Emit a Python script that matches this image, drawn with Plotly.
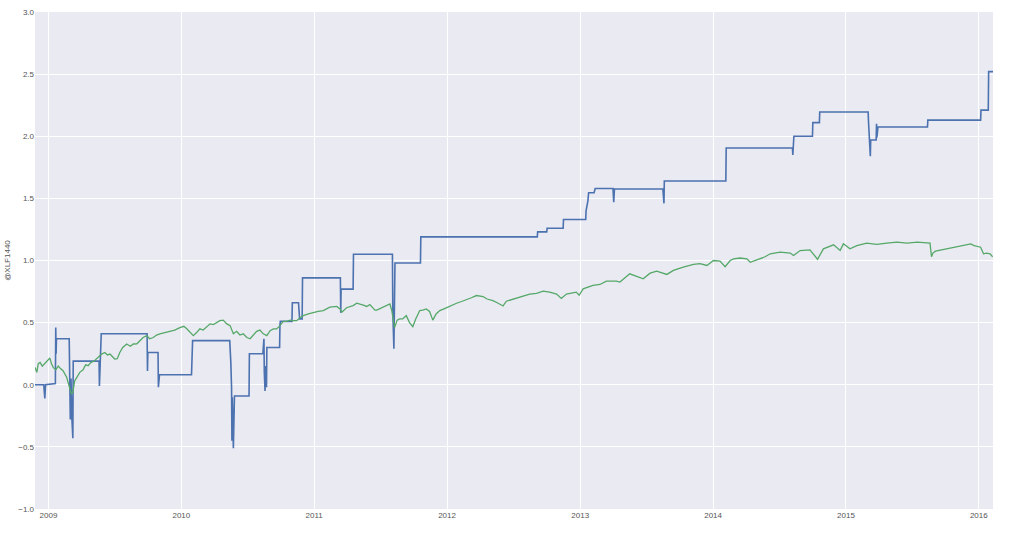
import plotly.graph_objects as go

# Strategy equity curve (blue) - step-like series
blue_dates = [
    "2008-11-25", "2008-12-19", "2008-12-22", "2008-12-24", "2009-01-20", "2009-01-21", "2009-01-22", "2009-01-23",
    "2009-02-27", "2009-03-02", "2009-03-04", "2009-03-06", "2009-03-09", "2009-03-10", "2009-05-20", "2009-05-21",
    "2009-05-22", "2009-05-26", "2009-09-29", "2009-09-30", "2009-10-01", "2009-10-29", "2009-10-30", "2009-11-02",
    "2010-01-29", "2010-02-01", "2010-05-14", "2010-05-17", "2010-05-19", "2010-05-20", "2010-05-21", "2010-05-24",
    "2010-05-25", "2010-05-27", "2010-07-06", "2010-07-07", "2010-08-13", "2010-08-16", "2010-08-17", "2010-08-19",
    "2010-08-20", "2010-08-23", "2010-08-24", "2010-09-28", "2010-09-29", "2010-09-30", "2010-11-01", "2010-11-02",
    "2010-11-19", "2010-11-22", "2010-11-29", "2010-11-30", "2011-03-14", "2011-03-15", "2011-03-16", "2011-04-18",
    "2011-04-19", "2011-08-04", "2011-08-05", "2011-08-08", "2011-08-09", "2011-08-10", "2011-08-11", "2011-10-20",
    "2011-10-21", "2012-09-05", "2012-09-06", "2012-10-01", "2012-10-02", "2012-11-15", "2012-11-16", "2013-01-16",
    "2013-01-17", "2013-01-22", "2013-01-24", "2013-02-08", "2013-02-11", "2013-04-01", "2013-04-03", "2013-04-05",
    "2013-08-16", "2013-08-19", "2013-08-20", "2014-02-05", "2014-02-06", "2014-08-07", "2014-08-08", "2014-08-11",
    "2014-10-01", "2014-10-02", "2014-10-20", "2014-10-21", "2015-03-03", "2015-03-04", "2015-03-06", "2015-03-09",
    "2015-03-10", "2015-03-25", "2015-03-26", "2015-03-27", "2015-03-30", "2015-08-13", "2015-08-14", "2016-01-06",
    "2016-01-07", "2016-01-27", "2016-01-28", "2016-02-09",
]
blue_values = [
    0.0, 0.0, -0.11, 0.0, 0.01, 0.46, 0.25, 0.37,
    0.37, -0.28, 0.05, -0.25, -0.43, 0.19, 0.19, -0.01,
    0.12, 0.41, 0.41, 0.11, 0.26, 0.26, -0.02, 0.08,
    0.08, 0.355, 0.355, 0.18, -0.02, -0.45, -0.10, -0.51,
    -0.38, -0.09, -0.09, 0.25, 0.25, 0.37, 0.10, -0.05,
    0.15, -0.02, 0.30, 0.30, 0.48, 0.51, 0.51, 0.66,
    0.66, 0.53, 0.53, 0.86, 0.86, 0.58, 0.77, 0.77,
    1.05, 1.05, 0.60, 0.29, 0.90, 0.50, 0.98, 0.98,
    1.19, 1.19, 1.23, 1.23, 1.26, 1.26, 1.33, 1.33,
    1.40, 1.48, 1.545, 1.545, 1.58, 1.58, 1.47, 1.575,
    1.575, 1.46, 1.64, 1.64, 1.905, 1.905, 1.85, 2.0,
    2.0, 2.11, 2.11, 2.195, 2.195, 2.115, 1.98, 1.84,
    1.97, 1.97, 2.10, 1.99, 2.075, 2.075, 2.13, 2.13,
    2.21, 2.21, 2.52, 2.52,
]

# Benchmark (green)
green_dates = [
    "2008-11-25", "2008-11-30", "2008-12-04", "2008-12-09", "2008-12-15", "2008-12-22", "2008-12-29", "2009-01-05",
    "2009-01-09", "2009-01-14", "2009-01-21", "2009-01-28", "2009-02-03", "2009-02-10", "2009-02-20", "2009-03-01",
    "2009-03-05", "2009-03-09", "2009-03-14", "2009-03-20", "2009-03-28", "2009-04-06", "2009-04-13", "2009-04-20",
    "2009-04-28", "2009-05-06", "2009-05-13", "2009-05-20", "2009-05-27", "2009-06-05", "2009-06-12", "2009-06-19",
    "2009-07-02", "2009-07-09", "2009-07-16", "2009-07-24", "2009-08-04", "2009-08-14", "2009-08-22", "2009-09-01",
    "2009-09-09", "2009-09-18", "2009-09-28", "2009-10-06", "2009-10-16", "2009-10-25", "2009-11-03", "2009-11-16",
    "2009-12-01", "2009-12-14", "2009-12-28", "2010-01-08", "2010-01-16", "2010-01-25", "2010-02-03", "2010-02-12",
    "2010-02-21", "2010-03-02", "2010-03-12", "2010-03-21", "2010-03-30", "2010-04-08", "2010-04-17", "2010-04-26",
    "2010-05-06", "2010-05-15", "2010-05-24", "2010-06-02", "2010-06-11", "2010-06-20", "2010-06-30", "2010-07-09",
    "2010-07-18", "2010-07-27", "2010-08-05", "2010-08-14", "2010-08-24", "2010-09-02", "2010-09-11", "2010-09-20",
    "2010-09-29", "2010-10-08", "2010-10-18", "2010-10-27", "2010-11-05", "2010-11-14", "2010-11-23", "2010-12-02",
    "2010-12-16", "2010-12-30", "2011-01-12", "2011-01-26", "2011-02-13", "2011-03-04", "2011-03-13", "2011-03-18",
    "2011-03-31", "2011-04-18", "2011-04-28", "2011-05-16", "2011-05-25", "2011-06-03", "2011-06-17", "2011-06-22",
    "2011-07-06", "2011-07-24", "2011-07-28", "2011-08-02", "2011-08-05", "2011-08-10", "2011-08-17", "2011-08-24",
    "2011-09-01", "2011-09-11", "2011-09-20", "2011-09-29", "2011-10-07", "2011-10-18", "2011-10-26", "2011-11-05",
    "2011-11-14", "2011-11-23", "2011-12-02", "2011-12-12", "2011-12-30", "2012-01-13", "2012-01-27", "2012-02-10",
    "2012-02-23", "2012-03-08", "2012-03-22", "2012-04-09", "2012-04-20", "2012-05-06", "2012-05-18", "2012-05-25",
    "2012-06-03", "2012-06-12", "2012-06-21", "2012-07-10", "2012-07-28", "2012-08-15", "2012-09-03", "2012-09-21",
    "2012-10-09", "2012-10-28", "2012-11-10", "2012-11-24", "2012-12-21", "2012-12-29", "2013-01-09", "2013-02-05",
    "2013-02-24", "2013-03-14", "2013-04-10", "2013-04-20", "2013-05-17", "2013-06-05", "2013-06-23", "2013-07-12",
    "2013-07-30", "2013-08-27", "2013-09-14", "2013-10-11", "2013-11-08", "2013-11-26", "2013-12-15", "2014-01-02",
    "2014-01-20", "2014-02-03", "2014-02-17", "2014-02-26", "2014-03-16", "2014-04-04", "2014-04-13", "2014-05-24",
    "2014-06-07", "2014-07-04", "2014-08-01", "2014-08-10", "2014-08-28", "2014-09-24", "2014-10-15", "2014-10-31",
    "2014-11-28", "2014-12-16", "2014-12-25", "2015-01-12", "2015-01-31", "2015-02-27", "2015-03-27", "2015-04-23",
    "2015-05-21", "2015-06-18", "2015-07-16", "2015-08-20", "2015-08-24", "2015-08-28", "2015-09-04", "2015-12-10",
    "2015-12-19", "2016-01-06", "2016-01-14", "2016-01-22", "2016-02-01", "2016-02-08",
]
green_values = [
    0.14, 0.10, 0.17, 0.18, 0.15, 0.17, 0.19, 0.215,
    0.17, 0.14, 0.12, 0.15, 0.13, 0.113, 0.06, -0.02,
    -0.075, -0.06, 0.03, 0.06, 0.10, 0.12, 0.16, 0.153,
    0.18, 0.19, 0.207, 0.23, 0.247, 0.26, 0.24, 0.247,
    0.207, 0.21, 0.26, 0.30, 0.328, 0.31, 0.328, 0.33,
    0.355, 0.38, 0.395, 0.37, 0.38, 0.40, 0.41, 0.42,
    0.435, 0.44, 0.46, 0.47, 0.45, 0.42, 0.395, 0.42,
    0.45, 0.44, 0.47, 0.49, 0.484, 0.50, 0.516, 0.52,
    0.49, 0.476, 0.41, 0.43, 0.40, 0.41, 0.38, 0.37,
    0.40, 0.43, 0.44, 0.41, 0.395, 0.435, 0.45, 0.45,
    0.476, 0.51, 0.51, 0.52, 0.516, 0.516, 0.54, 0.556,
    0.57, 0.583, 0.59, 0.597, 0.624, 0.63, 0.61, 0.583,
    0.62, 0.637, 0.656, 0.64, 0.63, 0.645, 0.60, 0.60,
    0.62, 0.65, 0.65, 0.60, 0.53, 0.46, 0.52, 0.53,
    0.53, 0.556, 0.50, 0.468, 0.53, 0.597, 0.60, 0.61,
    0.59, 0.52, 0.57, 0.597, 0.618, 0.64, 0.656, 0.67,
    0.683, 0.70, 0.718, 0.71, 0.69, 0.677, 0.66, 0.65,
    0.634, 0.672, 0.68, 0.696, 0.707, 0.729, 0.735, 0.753,
    0.745, 0.73, 0.695, 0.73, 0.745, 0.72, 0.772, 0.799,
    0.807, 0.834, 0.834, 0.826, 0.893, 0.87, 0.853, 0.898,
    0.915, 0.888, 0.92, 0.947, 0.969, 0.975, 0.96, 1.0,
    0.995, 0.95, 1.0, 1.013, 1.02, 1.013, 0.986, 1.03,
    1.054, 1.067, 1.06, 1.04, 1.08, 1.086, 1.01, 1.094,
    1.126, 1.08, 1.134, 1.094, 1.12, 1.14, 1.13, 1.14,
    1.148, 1.14, 1.148, 1.14, 1.03, 1.06, 1.075, 1.134,
    1.12, 1.107, 1.054, 1.06, 1.054, 1.03,
]

year_ticks = ["2009-01-01", "2010-01-01", "2011-01-01", "2012-01-01",
              "2013-01-01", "2014-01-01", "2015-01-01", "2016-01-01"]
year_labels = ["2009", "2010", "2011", "2012", "2013", "2014", "2015", "2016"]
y_ticks = [-1.0, -0.5, 0.0, 0.5, 1.0, 1.5, 2.0, 2.5, 3.0]

fig = go.Figure()
fig.add_trace(go.Scatter(x=blue_dates, y=blue_values, mode="lines",
                         line=dict(color="#4C72B0", width=1.6), showlegend=False))
fig.add_trace(go.Scatter(x=green_dates, y=green_values, mode="lines",
                         line=dict(color="#55A868", width=1.3), showlegend=False))

tick_font = dict(family="Liberation Sans, Arial, sans-serif", size=8, color="#555555")
fig.update_layout(
    width=1024, height=541,
    margin=dict(l=35, r=31, t=12, b=32, autoexpand=False),
    paper_bgcolor="white",
    plot_bgcolor="#EAEAF2",
    xaxis=dict(
        type="date",
        range=["2008-11-25", "2016-02-09"],
        tickmode="array", tickvals=year_ticks, ticktext=year_labels,
        showgrid=True, gridcolor="white", gridwidth=1,
        zeroline=False, showline=False, ticks="",
        tickfont=tick_font, automargin=False,
    ),
    yaxis=dict(
        range=[-1.0, 3.0],
        tickmode="array", tickvals=y_ticks, tickformat=".1f",
        showgrid=True, gridcolor="white", gridwidth=1,
        zeroline=False, showline=False, ticks="",
        tickfont=tick_font, automargin=False,
        title=dict(text="@XLF1440", font=tick_font, standoff=6),
    ),
)

fig.write_html("out.html")
